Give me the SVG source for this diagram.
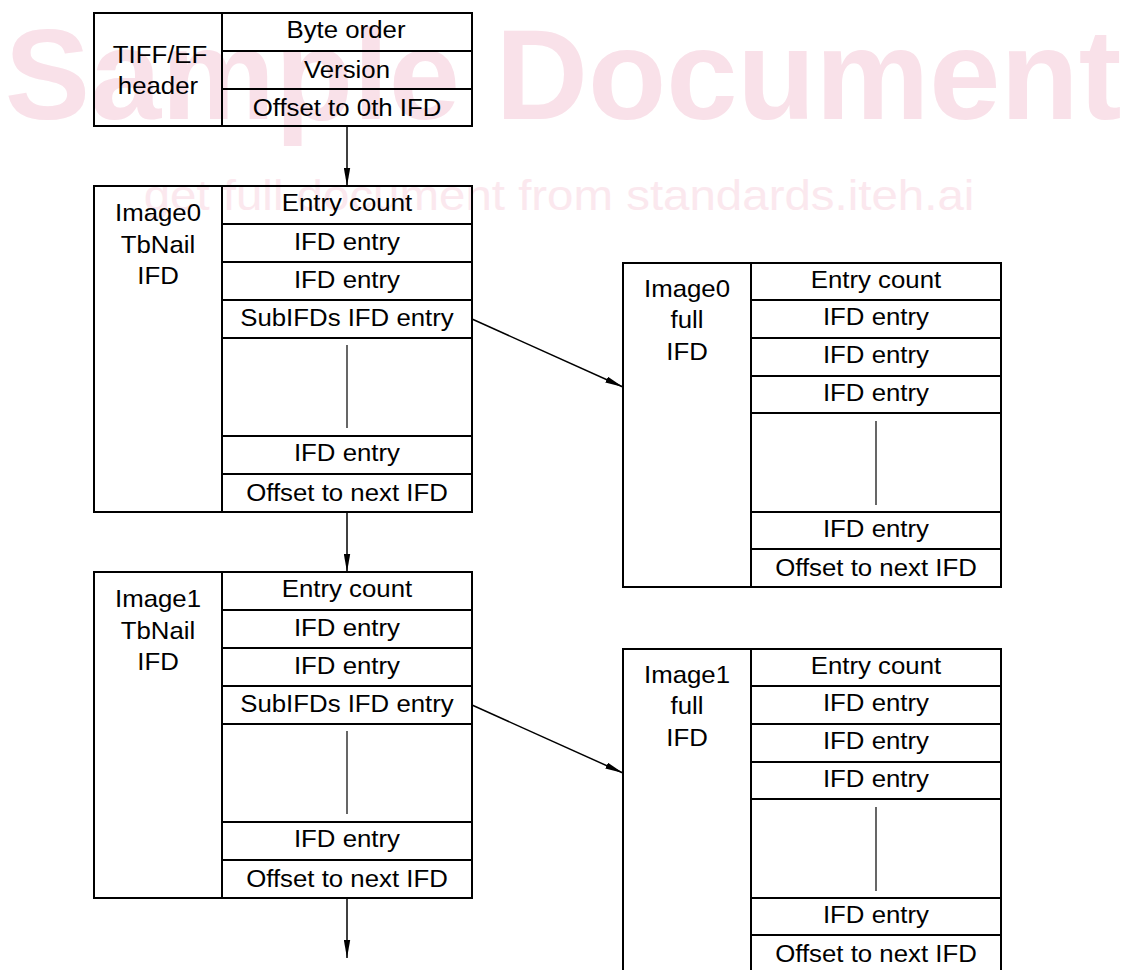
<svg xmlns="http://www.w3.org/2000/svg" width="1123" height="970" viewBox="0 0 1123 970">
<style>
.wm1{font-family:"Liberation Sans",Arial,sans-serif;font-weight:bold;font-size:128px;fill:#f9e1e9;text-anchor:middle}
.wm2{font-family:"Liberation Sans",Arial,sans-serif;font-size:42px;fill:#fbe8ee;text-anchor:middle;transform-box:fill-box;transform-origin:center;transform:scaleX(1.13)}
.box{fill:none;stroke:#000;stroke-width:2}
.ln{stroke:#000;stroke-width:2;fill:none}
.dots{stroke:#000;stroke-width:1.2}
.t{font-family:"Liberation Sans",Arial,sans-serif;font-size:24px;fill:#000;text-anchor:middle;transform-box:fill-box;transform-origin:center;transform:scaleX(1.075)}
.arr{stroke:#000;stroke-width:1.5;fill:none;marker-end:url(#ah)}
</style>
<defs>
<marker id="ah" markerUnits="userSpaceOnUse" markerWidth="18" markerHeight="7" refX="18" refY="3.5" orient="auto">
<path d="M0,0.3 L18,3.5 L0,6.7 z" fill="#000"/>
</marker>
</defs>
<g id="watermark">
<text class="wm1" x="563" y="119">Sample Document</text>
<text class="wm2" x="559" y="210">get full document from standards.iteh.ai</text>
</g>
<g id="header">
<rect class="box" x="94" y="13" width="378" height="113"/>
<line class="ln" x1="222" y1="13" x2="222" y2="126"/>
<line class="ln" x1="222" y1="51" x2="472" y2="51"/>
<line class="ln" x1="222" y1="89" x2="472" y2="89"/>
<text class="t" x="160" y="63.5">TIFF/EF</text>
<text class="t" x="158" y="94.5">header</text>
<text class="t" x="346" y="38">Byte order</text>
<text class="t" x="347" y="78.3">Version</text>
<text class="t" x="347" y="116.5">Offset to 0th IFD</text>
</g>
<g id="image0-tbnail">
<rect class="box" x="94" y="186" width="378" height="326"/>
<line class="ln" x1="222" y1="186" x2="222" y2="512"/>
<line class="ln" x1="222" y1="224" x2="472" y2="224"/>
<line class="ln" x1="222" y1="262" x2="472" y2="262"/>
<line class="ln" x1="222" y1="300" x2="472" y2="300"/>
<line class="ln" x1="222" y1="338" x2="472" y2="338"/>
<line class="ln" x1="222" y1="436" x2="472" y2="436"/>
<line class="ln" x1="222" y1="474" x2="472" y2="474"/>
<line class="dots" x1="347" y1="345" x2="347" y2="428"/>
<text class="t" x="158" y="221">Image0</text>
<text class="t" x="158" y="253">TbNail</text>
<text class="t" x="158" y="284.5">IFD</text>
<text class="t" x="347" y="211.5">Entry count</text>
<text class="t" x="347" y="250">IFD entry</text>
<text class="t" x="347" y="288">IFD entry</text>
<text class="t" x="347" y="326">SubIFDs IFD entry</text>
<text class="t" x="347" y="461.5">IFD entry</text>
<text class="t" x="347" y="501.5">Offset to next IFD</text>
</g>
<g id="image0-full">
<rect class="box" x="623" y="263" width="378" height="324"/>
<line class="ln" x1="751" y1="263" x2="751" y2="587"/>
<line class="ln" x1="751" y1="300" x2="1001" y2="300"/>
<line class="ln" x1="751" y1="338" x2="1001" y2="338"/>
<line class="ln" x1="751" y1="376" x2="1001" y2="376"/>
<line class="ln" x1="751" y1="413" x2="1001" y2="413"/>
<line class="ln" x1="751" y1="512" x2="1001" y2="512"/>
<line class="ln" x1="751" y1="549" x2="1001" y2="549"/>
<line class="dots" x1="876" y1="421" x2="876" y2="505"/>
<text class="t" x="687" y="296.7">Image0</text>
<text class="t" x="687" y="328.3">full</text>
<text class="t" x="687" y="360">IFD</text>
<text class="t" x="876" y="288">Entry count</text>
<text class="t" x="876" y="325.5">IFD entry</text>
<text class="t" x="876" y="363.5">IFD entry</text>
<text class="t" x="876" y="401">IFD entry</text>
<text class="t" x="876" y="537">IFD entry</text>
<text class="t" x="876" y="576.5">Offset to next IFD</text>
</g>
<g id="image1-tbnail">
<rect class="box" x="94" y="572" width="378" height="326"/>
<line class="ln" x1="222" y1="572" x2="222" y2="898"/>
<line class="ln" x1="222" y1="610" x2="472" y2="610"/>
<line class="ln" x1="222" y1="648" x2="472" y2="648"/>
<line class="ln" x1="222" y1="686" x2="472" y2="686"/>
<line class="ln" x1="222" y1="724" x2="472" y2="724"/>
<line class="ln" x1="222" y1="822" x2="472" y2="822"/>
<line class="ln" x1="222" y1="860" x2="472" y2="860"/>
<line class="dots" x1="347" y1="731" x2="347" y2="814"/>
<text class="t" x="158" y="607">Image1</text>
<text class="t" x="158" y="639">TbNail</text>
<text class="t" x="158" y="670.5">IFD</text>
<text class="t" x="347" y="597.5">Entry count</text>
<text class="t" x="347" y="636">IFD entry</text>
<text class="t" x="347" y="674">IFD entry</text>
<text class="t" x="347" y="712">SubIFDs IFD entry</text>
<text class="t" x="347" y="847.5">IFD entry</text>
<text class="t" x="347" y="887.5">Offset to next IFD</text>
</g>
<g id="image1-full">
<rect class="box" x="623" y="649" width="378" height="325"/>
<line class="ln" x1="751" y1="649" x2="751" y2="974"/>
<line class="ln" x1="751" y1="686" x2="1001" y2="686"/>
<line class="ln" x1="751" y1="724" x2="1001" y2="724"/>
<line class="ln" x1="751" y1="762" x2="1001" y2="762"/>
<line class="ln" x1="751" y1="799" x2="1001" y2="799"/>
<line class="ln" x1="751" y1="898" x2="1001" y2="898"/>
<line class="ln" x1="751" y1="935" x2="1001" y2="935"/>
<line class="dots" x1="876" y1="807" x2="876" y2="891"/>
<text class="t" x="687" y="682.7">Image1</text>
<text class="t" x="687" y="714.3">full</text>
<text class="t" x="687" y="746">IFD</text>
<text class="t" x="876" y="674">Entry count</text>
<text class="t" x="876" y="711.5">IFD entry</text>
<text class="t" x="876" y="749.5">IFD entry</text>
<text class="t" x="876" y="787">IFD entry</text>
<text class="t" x="876" y="923">IFD entry</text>
<text class="t" x="876" y="962.5">Offset to next IFD</text>
</g>
<g id="connectors">
<line class="arr" x1="347" y1="126" x2="347" y2="186"/>
<line class="arr" x1="347" y1="512" x2="347" y2="572"/>
<line class="arr" x1="347" y1="898" x2="347" y2="958"/>
<line class="arr" x1="472" y1="319" x2="623" y2="387"/>
<line class="arr" x1="472" y1="705" x2="623" y2="773"/>
</g>
</svg>
